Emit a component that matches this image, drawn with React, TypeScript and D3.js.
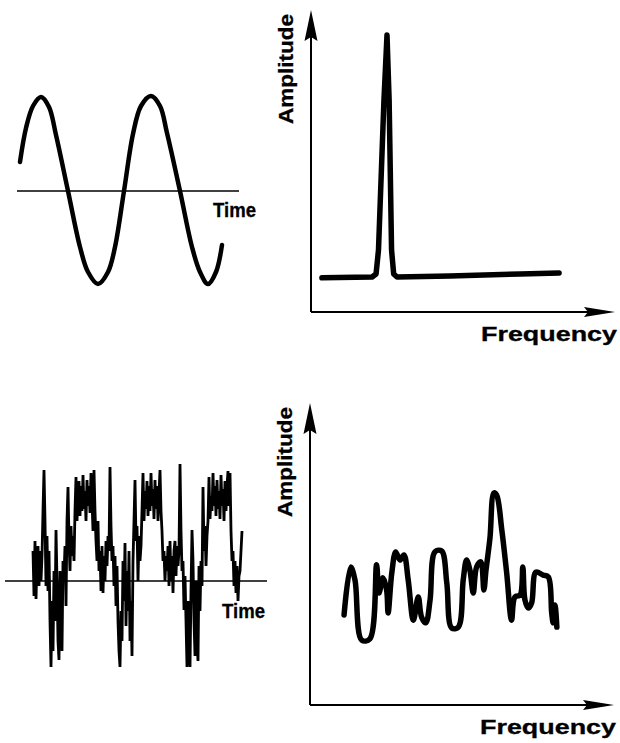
import React from 'react';
import * as d3 from 'd3';

// top-left: pure tone, readings along the time axis
const sineTime = [0, 3, 6.5, 10.5, 14.5, 18, 24, 30, 34, 39, 44, 47.5, 52, 56.5, 60.5, 65.5, 70, 73.5, 80, 86, 90, 94, 98, 101];
const sineAmp = [29, 63, 85, 94, 84, 56, 0, -56, -81, -93, -81, -56, 0, 57, 85, 95, 85, 58, 0, -56, -81, -93, -81, -54];

// bottom-left: noisy signal, one reading per time step
const noiseAmp = [
  30, -15, 40, -18, 20, 35, -5, 30, 0, 25,
  70, 111, 60, -5, 45, -10, 30, -40, -86, -20,
  -70, 10, -40, 51, 0, -60, -79, 10, -30, -70,
  20, 5, 35, -25, 60, 94, 40, 10, 55, 25,
  45, 20, 70, 104, 60, 85, 100, 65, 95, 70,
  106, 72, 90, 60, 101, 75, 95, 68, 108, 80,
  50, 111, 70, 40, 20, 60, 10, 30, -10, 35,
  -12, 25, 0, 40, 15, 45, 30, 114, 55, 20,
  35, -5, 25, -25, 15, -40, -70, -86, -30, -60,
  20, -20, 38, -45, 10, -30, 30, -60, -20, -75,
  20, 60, 101, 40, 55, 0, 45, 20, 35, 70,
  108, 60, 90, 72, 100, 65, 95, 70, 108, 75,
  92, 62, 101, 72, 95, 60, 88, 111, 70, 50,
  20, 30, 0, 25, 10, 35, -5, 40, 0, 25,
  -12, 30, 40, 5, 35, 15, 30, 117, 50, 10,
  20, -29, 5, -40, -86, -20, -70, -86, -10, 51,
  20, -40, -75, 0, -60, -80, 15, -30, 20, -5,
  94, 30, 55, 15, 45, 60, 104, 62, 85, 70,
  108, 75, 95, 65, 101, 72, 90, 62, 106, 75,
  92, 60, 100, 70, 95, 110, 75, 108, 50, 20,
  30, -5, 20, -12, 15, -20, 5, 10, 30, 50,
];

// top-right: single spectral line
const toneFreq = [3.6, 20.1, 21.4, 22.2, 24.0, 25.0, 25.7, 26.5, 27.2, 28.3, 45.7, 68.8, 81.6];
const toneSpec = [11.3, 11.6, 12.6, 20.5, 70.2, 91.7, 70.2, 20.5, 12.6, 11.6, 11.9, 12.6, 12.9];

// bottom-right: broadband spectrum
const noiseFreq = [
  11.2, 13.4, 14.8, 17.0, 19.7, 21.9, 22.7, 24.0, 25.2, 25.7, 26.9, 28.2, 29.6, 30.9, 32.3, 34.0,
  35.6, 36.7, 38.1, 39.5, 41.1, 43.3, 45.0, 46.6, 48.8, 50.4, 51.5, 52.6, 53.7, 54.8, 56.2, 57.2,
  57.9, 59.2, 60.5, 61.4, 63.1, 64.7, 66.3, 67.4, 69.1, 70.0, 70.7, 71.8, 72.9, 74.3, 76.7, 78.4,
  79.5, 80.0, 80.6, 81.2,
];
const noiseSpec = [
  29.8, 45.7, 41.4, 21.5, 21.9, 46.4, 37.1, 42.1, 38.1, 30.5, 43.7, 50.7, 48.0, 49.7, 41.4, 28.1,
  35.8, 29.1, 27.2, 34.8, 50.7, 51.0, 40.4, 25.5, 25.8, 41.4, 48.0, 44.7, 37.1, 45.7, 47.4, 38.1,
  44.7, 55.3, 70.2, 69.5, 57.9, 43.7, 28.1, 35.8, 36.4, 45.7, 34.8, 32.1, 33.8, 44.0, 43.0, 42.4,
  30.5, 27.2, 33.1, 25.8,
];

const timeLabel = 'Time';
const freqLabel = 'Frequency';
const ampLabel = 'Amplitude';

const font = '"Liberation Sans", Arial, Helvetica, sans-serif';

function Spectrum({ ox, oy, freq, amp, curve }: { ox: number; oy: number; freq: number[]; amp: number[]; curve: d3.CurveFactory }) {
  const x = d3.scaleLinear().domain([0, 100]).range([ox, ox + 304]);
  const y = d3.scaleLinear().domain([0, 100]).range([oy, oy - 302]);
  const line = d3.line<number>()
    .x((_, i) => x(freq[i]))
    .y(d => y(d))
    .curve(curve);
  const [x0, x1] = x.range();
  const [y0, y1] = y.range();
  return (
    <g>
      <line x1={x0} y1={y0} x2={x0} y2={y1 + 20} stroke="#000" strokeWidth={2} />
      <line x1={x0} y1={y0} x2={x1 - 20} y2={y0} stroke="#000" strokeWidth={2} />
      <path d={`M${x0},${y1} L${x0 + 6.5},${y1 + 31} L${x0},${y1 + 27} L${x0 - 6.5},${y1 + 31} Z`} fill="#000" />
      <path d={`M${x1},${y0} L${x1 - 31},${y0 + 5} L${x1 - 27},${y0} L${x1 - 31},${y0 - 5} Z`} fill="#000" />
      <path d={line(amp) ?? ''} fill="none" stroke="#000" strokeWidth={5.5} strokeLinejoin="round" strokeLinecap="round" />
      <text x={x1 + 2} y={y0 + 29} textAnchor="end" fontFamily={font} fontWeight="bold" fontSize={19.5}
        stroke="#000" strokeWidth={0.3} textLength={136} lengthAdjust="spacingAndGlyphs">{freqLabel}</text>
      <text transform={`translate(${x0 - 18},${y0 - 188}) rotate(-90)`} fontFamily={font} fontWeight="bold" fontSize={21}
        stroke="#000" strokeWidth={0.3} textLength={110} lengthAdjust="spacingAndGlyphs">{ampLabel}</text>
    </g>
  );
}

export default function App() {
  // top-left sine
  const sx = d3.scaleLinear().domain([-1.5, 109.5]).range([17, 239]);
  const sy = d3.scaleLinear().domain([-100, 100]).range([291, 91]);
  const sineLine = d3.line<number>()
    .x((_, i) => sx(sineTime[i]))
    .y(d => sy(d))
    .curve(d3.curveCatmullRom);

  // bottom-left noise, one time step per pixel
  const nx = d3.scaleLinear().domain([-28, 234]).range([5, 267]);
  const ny = d3.scaleLinear().domain([-100, 100]).range([681, 481]);
  const noiseLine = d3.line<number>()
    .x((_, i) => nx(i))
    .y(d => ny(d));

  return (
    <div style={{ position: 'absolute', left: 0, top: 0 }}>
      <svg width={620} height={743} style={{ display: 'block', background: '#fff' }}>
        <line x1={sx.range()[0]} x2={sx.range()[1]} y1={sy(0)} y2={sy(0)} stroke="#000" strokeWidth={1.6} />
        <path d={sineLine(sineAmp) ?? ''} fill="none" stroke="#000" strokeWidth={4.5} strokeLinecap="round" />
        <text x={213} y={217} fontFamily={font} fontWeight="bold" fontSize={20}
          stroke="#000" strokeWidth={0.3} textLength={43} lengthAdjust="spacingAndGlyphs">{timeLabel}</text>

        <line x1={nx.range()[0]} x2={nx.range()[1]} y1={ny(0)} y2={ny(0)} stroke="#000" strokeWidth={1.6} />
        <path d={noiseLine(noiseAmp) ?? ''} fill="none" stroke="#000" strokeWidth={2.8} strokeLinejoin="bevel" />
        <text x={222} y={618} fontFamily={font} fontWeight="bold" fontSize={20}
          stroke="#000" strokeWidth={0.3} textLength={43} lengthAdjust="spacingAndGlyphs">{timeLabel}</text>

        <Spectrum ox={311} oy={312} freq={toneFreq} amp={toneSpec} curve={d3.curveLinear} />
        <Spectrum ox={310} oy={705} freq={noiseFreq} amp={noiseSpec} curve={d3.curveCatmullRom.alpha(0.5)} />
      </svg>
    </div>
  );
}
